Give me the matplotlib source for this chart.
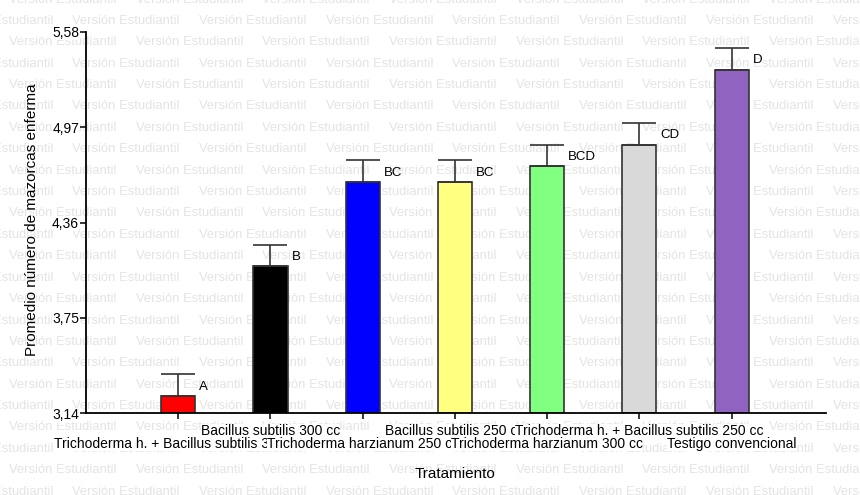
import numpy as np
import matplotlib
matplotlib.use("Agg")
import matplotlib.pyplot as plt
import matplotlib.transforms as mtransforms

plt.rcParams['font.family'] = ['Liberation Sans', 'DejaVu Sans']

#---Data:
tratamientos = [
    "Trichoderma h. + Bacillus subtilis 300 cc",
    "Bacillus subtilis 300 cc",
    "Trichoderma harzianum 250 cc",
    "Bacillus subtilis 250 cc",
    "Trichoderma harzianum 300 cc",
    "Trichoderma h. + Bacillus subtilis 250 cc",
    "Testigo convencional",
]
medias = [3.25, 4.08, 4.62, 4.62, 4.72, 4.86, 5.34]
error_est = [0.14, 0.14, 0.14, 0.14, 0.14, 0.14, 0.14]
letras = ["A", "B", "BC", "BC", "BCD", "CD", "D"]
colores = ["#ff0000", "#000000", "#0000ff", "#ffff80", "#80ff80", "#d9d9d9", "#9063c0"]
y_ticks = [3.14, 3.75, 4.36, 4.97, 5.58]
y_tick_labels = ["3,14", "3,75", "4,36", "4,97", "5,58"]

W, H = 860, 495
fig = plt.figure(figsize=(W / 100, H / 100), dpi=100)
fig.patch.set_facecolor("white")

#---Watermark behind everything:
for k in range(24):
    y_px = -0.5 + 21.4 * k
    x0 = 9 if k % 2 == 0 else 72.3
    xs = x0 - 126.7
    while xs < W:
        fig.text(xs / W, 1 - y_px / H, "Versión Estudiantil", fontsize=9.4,
                 color="#e4e4e4", ha="left", va="center", zorder=-5)
        xs += 126.7

ax = fig.add_axes([86 / W, 1 - 413.3 / H, (825.7 - 86) / W, (413.3 - 32) / H])
ax.set_facecolor("none")

x = np.arange(len(tratamientos))
ancho = 0.37
ax.bar(x, np.array(medias) - y_ticks[0], bottom=y_ticks[0], width=ancho,
       color=colores, edgecolor="#333333", linewidth=1.2, zorder=2)
#---capsize is half the cap length, so the cap matches the bar width:
ax.errorbar(x, medias, yerr=[np.zeros(len(medias)), error_est], fmt="none",
            ecolor="#333333", elinewidth=1.2, capsize=12.3, capthick=1.2, zorder=3)

#---Letters of significance:
for i in range(len(x)):
    ax.annotate(letras[i], xy=(x[i] + ancho / 2, medias[i] + error_est[i]),
                xytext=(4, -12.5), textcoords="offset pixels",
                ha="left", va="center", fontsize=9.5, color="black", zorder=4)

ax.set_xlim(-1.0, 7.02)
ax.set_ylim(y_ticks[0], y_ticks[-1])
ax.spines["top"].set_visible(False)
ax.spines["right"].set_visible(False)
ax.spines["left"].set_linewidth(1.3)
ax.spines["bottom"].set_linewidth(1.3)

ax.set_yticks(y_ticks)
ax.set_yticklabels(y_tick_labels, fontsize=10)
for lbl in ax.get_yticklabels():
    lbl.set_bbox(dict(facecolor="white", edgecolor="none", pad=0))
ax.tick_params(axis="y", length=4, width=1.1, pad=1)

ax.set_xticks(x)
ax.set_xticklabels([])
ax.tick_params(axis="x", length=4, width=1.1)

#---Two-row category labels, later ones drawn over earlier ones:
trans = mtransforms.blended_transform_factory(ax.transData, ax.transAxes)
orden = [1, 3, 5, 0, 2, 4, 6]
for i in orden:
    dy = -18 if i % 2 == 1 else -31
    ax.annotate(tratamientos[i], xy=(x[i], 0), xycoords=trans,
                xytext=(0, dy), textcoords="offset pixels",
                ha="center", va="center", fontsize=10, annotation_clip=False,
                bbox=dict(facecolor="white", edgecolor="none", pad=0))

fig.text(32 / W, 1 - 220 / H, "Promedio número de mazorcas enferma",
         rotation=90, ha="center", va="center", fontsize=11)
fig.text(455 / W, 1 - 474 / H, "Tratamiento", ha="center", va="center", fontsize=11)

fig.savefig("out.png", dpi=100)
